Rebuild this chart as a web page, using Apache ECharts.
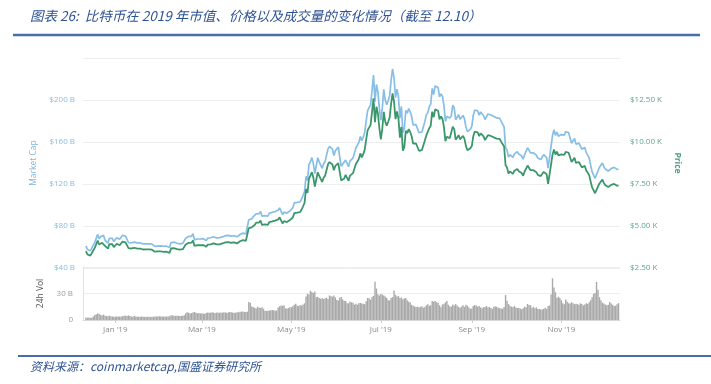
<!DOCTYPE html>
<html>
<head>
<meta charset="utf-8">
<script src="https://cdn.jsdelivr.net/npm/echarts@6/dist/echarts.min.js"></script>
<style>
html,body{margin:0;padding:0;background:#fff;}
#chart{width:711px;height:384px;}
</style>
</head>
<body>
<div id="chart"></div>
<script>
// Day offsets relative to 2019-01-01; first data point = 2018-12-12
const firstDay = -20;
const tickDays = [0, 59, 120, 181, 243, 304];
const tickLabels = ["Jan '19", "Mar '19", "May '19", "Jul '19", "Sep '19", "Nov '19"];

// Price (USD), daily from 2018-12-12 to 2019-12-10
const priceUSD = [
  // Dec 2018 (12-31)
  3510,3313,3243,3236,3253,3545,3697,3745,4134,3896,4014,3998,4079,3815,3857,3654,3923,3821,3913,3743,
  // Jan
  3843,3943,3837,3858,3845,4076,4026,4031,4035,3679,3688,3661,3553,3705,3631,3656,3678,3657,3729,3601,3585,3614,3576,3608,3594,3593,3566,3471,3438,3488,3458,
  // Feb
  3487,3521,3465,3459,3467,3414,3401,3661,3665,3683,3615,3629,3615,3593,3602,3618,3667,3898,3947,3999,3954,4005,4142,3810,3882,3855,3859,3854,
  // Mar
  3859,3864,3847,3761,3896,3903,3912,3902,3964,3949,3902,3920,3912,3924,3960,4048,4026,4002,4044,4066,4002,4009,4023,4017,3964,3985,4090,4094,4161,4129,4116,
  // Apr
  4150,4879,4973,4922,5036,5059,5198,5289,5204,5325,5064,5089,5096,5167,5067,5236,5307,5276,5277,5323,5277,5389,5513,5435,5153,5285,5247,5236,5208,5350,
  // May
  5402,5506,5768,5831,5796,5747,5829,5982,6175,6379,7204,6972,7815,7994,8205,7884,7343,7271,8198,7978,7964,7627,7876,7997,8052,8673,8805,8719,8659,8319,8575,
  // Jun
  8564,8742,8208,7708,7824,7822,8043,7954,7688,8000,7927,8145,8230,8693,8838,8994,9320,9082,9274,9531,10145,10701,10855,11011,11790,12600,11182,12100,11700,10818,
  // Jul
  10150,10801,11800,11215,10978,11208,11450,12285,12900,12400,11358,11815,11392,10256,10895,9477,9693,10666,10530,10767,10599,10343,9900,9811,9912,9871,9477,9552,9519,9597,10085,
  // Aug
  10399,10518,10821,10970,11805,11478,11941,11966,11862,11355,11523,11382,10895,10051,10311,10374,10231,10345,10916,10764,10138,10131,10407,10160,10139,10370,10185,9754,9510,9598,9630,
  // Sep
  9757,10346,10623,10594,10575,10353,10517,10441,10334,10115,10178,10410,10360,10358,10347,10276,10241,10199,10267,10181,10019,10070,9729,8620,8486,8118,8251,8245,8104,8293,
  // Oct
  8344,8393,8259,8205,8151,7988,8245,8228,8595,8586,8321,8336,8321,8374,8205,8047,8103,7973,7988,8223,8243,8078,7514,7493,8660,9244,9551,9256,9428,9205,9199,
  // Nov
  9261,9324,9235,9413,9342,9360,9267,8804,8813,9055,8757,8815,8809,8708,8491,8550,8577,8309,8206,8027,7642,7297,7397,6950,7146,7218,7532,7463,7761,7569,
  // Dec 2019 (1-10)
  7424,7321,7320,7253,7448,7547,7505,7504,7400,7400
];

// Market cap (billion USD), same days
const marketCapB = [
  61.1,57.7,56.5,56.4,56.7,61.8,64.4,65.2,72.0,67.9,69.9,69.6,71.1,66.5,67.2,63.7,68.3,66.6,68.2,65.2,
  67.1,68.9,67.0,67.4,67.2,71.2,70.3,70.4,70.5,64.3,64.4,64.0,62.1,64.7,63.4,63.9,64.3,63.9,65.1,62.9,62.6,63.1,62.5,63.0,62.8,62.8,62.3,60.6,60.1,60.9,60.4,
  61.1,61.7,60.7,60.6,60.8,59.8,59.6,64.2,64.2,64.6,63.4,63.6,63.4,63.0,63.1,63.4,64.3,68.3,69.2,70.1,69.3,70.2,72.6,66.8,68.1,67.6,67.6,67.6,
  67.8,67.9,67.6,66.1,68.5,68.6,68.8,68.6,69.7,69.4,68.6,68.9,68.8,69.0,69.6,71.2,70.8,70.4,71.1,71.5,70.4,70.5,70.7,70.6,69.7,70.1,71.9,72.0,73.2,72.6,72.4,
  73.2,86.0,87.7,86.8,88.8,89.2,91.6,93.2,91.7,93.9,89.3,89.7,89.8,91.1,89.3,92.3,93.6,93.0,93.0,93.8,93.0,95.0,97.2,95.8,90.8,93.2,92.5,92.3,91.8,94.3,
  95.6,97.4,102.0,103.2,102.5,101.7,103.1,105.8,109.2,112.8,127.4,123.3,138.2,141.4,145.1,139.5,129.9,128.6,145.0,141.1,140.9,134.9,139.3,141.5,142.4,153.4,155.8,154.2,153.2,147.2,151.7,
  152.0,155.2,145.7,136.8,138.9,138.8,142.8,141.2,136.5,142.0,140.7,144.6,146.1,154.3,156.9,159.6,165.4,161.2,164.6,169.2,180.1,189.9,192.7,195.4,209.3,223.7,198.5,214.8,207.7,192.0,
  180.8,192.4,210.2,199.7,195.5,199.6,203.9,218.8,229.7,220.8,202.3,210.4,202.9,182.7,194.0,168.8,172.6,190.0,187.5,191.8,188.8,184.2,176.3,174.7,176.5,175.8,168.8,170.1,169.5,170.9,179.6,
  185.8,188.0,193.4,196.0,211.0,205.1,213.4,213.8,212.0,202.9,205.9,203.4,194.7,179.6,184.3,185.4,182.8,184.9,195.1,192.4,181.2,181.0,186.0,181.6,181.2,185.3,182.0,174.3,169.9,171.5,172.1,
  174.9,185.5,190.5,190.0,189.6,185.6,188.6,187.2,185.3,181.4,182.5,186.7,185.8,185.7,185.5,184.2,183.6,182.9,184.1,182.5,179.6,180.6,174.4,154.6,152.2,145.6,147.9,147.8,145.3,148.7,
  150.0,150.9,148.5,147.5,146.6,143.6,148.2,147.9,154.5,154.4,149.6,149.9,149.6,150.6,147.5,144.7,145.7,143.4,143.6,147.9,148.2,145.2,135.1,134.7,155.7,166.2,171.7,166.4,169.5,165.5,165.4,
  167.1,168.2,166.6,169.8,168.5,168.9,167.2,158.8,159.0,163.4,158.0,159.0,158.9,157.1,153.2,154.2,154.7,149.9,148.0,144.8,137.9,131.6,133.4,125.4,128.9,130.2,135.9,134.6,140.0,136.5,
  134.3,132.4,132.4,131.2,134.7,136.5,135.8,135.7,133.9,133.9
];

// 24h volume (billion USD), same days
const volumeB = [
  2.8,2.5,2.7,2.4,2.6,4.0,5.8,6.6,7.4,6.9,5.8,5.2,6.1,4.8,4.6,4.3,4.9,4.2,4.0,3.8,
  3.6,4.0,4.1,3.9,3.7,4.4,4.8,4.9,4.5,5.2,4.6,3.9,3.6,4.5,4.1,3.8,3.7,3.6,3.9,3.8,3.5,3.7,3.6,3.8,3.5,3.6,3.6,4.1,3.9,4.0,4.2,
  4.1,3.9,3.8,3.9,3.8,4.2,4.1,5.5,5.1,4.9,4.7,4.9,4.8,4.6,4.7,4.8,5.4,7.6,8.9,8.2,7.4,7.8,8.6,9.2,8.1,7.6,7.9,7.4,
  7.6,7.2,7.0,7.8,8.5,8.1,8.2,8.9,8.4,8.0,8.3,8.6,8.1,8.4,8.2,8.9,8.5,8.3,8.6,9.0,8.7,8.4,8.3,8.2,8.9,8.8,9.3,9.4,9.5,9.1,9.0,
  9.4,20.5,19.6,15.2,14.6,13.8,13.1,14.9,14.1,13.6,14.5,12.8,10.6,10.2,10.4,10.8,11.1,11.3,10.9,10.5,10.7,14.1,15.6,16.3,15.9,16.8,13.2,13.0,13.6,14.4,
  14.5,15.6,17.2,18.3,16.1,15.8,16.9,16.4,17.6,18.9,26.5,29.7,28.9,33.1,31.8,30.6,32.4,25.8,26.2,24.9,24.1,24.6,23.8,24.5,25.2,23.9,27.8,26.9,26.4,27.6,25.6,
  22.6,22.0,25.1,26.1,23.2,21.9,21.5,19.1,18.9,21.0,20.0,19.6,17.4,18.4,17.2,18.9,19.3,18.8,18.4,17.9,21.3,24.9,24.6,22.8,26.1,27.3,43.2,35.6,29.2,27.8,
  29.5,28.8,27.6,26.7,24.8,22.3,22.2,24.8,25.9,33.5,28.5,26.7,27.1,24.8,25.4,23.6,24.3,24.9,22.4,20.8,19.8,17.2,16.0,15.3,14.8,15.1,14.3,14.9,15.6,13.9,14.8,
  16.6,17.9,16.2,16.7,21.6,20.8,21.4,20.1,19.4,16.7,14.5,17.6,18.3,19.8,21.5,17.2,15.4,15.3,17.6,16.5,18.2,16.4,14.8,13.9,15.2,16.7,14.9,17.3,16.2,14.1,12.8,
  13.0,15.9,17.1,16.5,15.1,15.8,14.2,13.2,14.6,14.6,15.8,14.2,14.8,13.5,12.7,15.1,15.3,14.9,14.0,13.4,13.1,12.8,14.6,28.2,21.7,18.0,16.2,15.1,14.3,15.9,
  14.1,13.6,13.7,12.9,12.1,13.2,15.1,14.4,18.1,17.0,16.8,13.8,14.9,13.2,14.3,12.4,12.6,12.0,11.8,12.8,14.0,12.5,15.8,16.4,28.9,47.2,36.8,31.4,25.3,26.3,24.9,
  22.4,19.0,17.8,23.2,20.8,18.9,18.7,20.1,18.9,17.9,18.4,17.9,17.3,18.9,18.2,16.6,17.5,19.0,18.2,20.1,22.4,25.7,29.6,30.5,43.0,34.2,25.8,22.4,19.6,18.6,
  17.5,16.8,17.3,20.5,18.6,17.2,15.9,16.2,17.8,19.1
];

const pair = (arr) => arr.map((v, i) => [firstDay + i, v]);

const chart = echarts.init(document.getElementById('chart'), null, {renderer: 'canvas'});
const labelFont = 'Open Sans';
const option = {
  animation: false,
  backgroundColor: '#ffffff',
  graphic: [
    {type: 'text', left: 30, top: 9, style: {text: '图表 26:  比特币在 2019 年市值、价格以及成交量的变化情况（截至 12.10）', font: 'italic 13.5px "Noto Sans CJK SC"', fill: '#2E5395'}},
    {type: 'line', shape: {x1: 13, y1: 35, x2: 700, y2: 35}, style: {stroke: '#4A6CA8', lineWidth: 2.5}},
    {type: 'line', shape: {x1: 18, y1: 356, x2: 711, y2: 356}, style: {stroke: '#4A6CA8', lineWidth: 2}},
    {type: 'text', left: 30, top: 360, style: {text: '资料来源：coinmarketcap,国盛证券研究所', font: 'italic 12px "Noto Sans CJK SC"', fill: '#2E5395'}}
  ],
  grid: [
    {left: 83, right: 91, top: 58, height: 210},
    {left: 83, right: 91, top: 267, height: 53}
  ],
  xAxis: [
    {type: 'value', gridIndex: 0, min: -22, max: 344, show: false},
    {type: 'value', gridIndex: 1, min: -22, max: 344,
     axisLine: {show: true, onZero: false, lineStyle: {color: '#d8d8d8'}},
     axisTick: {show: true, customValues: tickDays, length: 3, lineStyle: {color: '#cccccc'}},
     splitLine: {show: false},
     axisLabel: {customValues: tickDays, color: '#8a8a8a', fontSize: 8, fontFamily: labelFont, margin: 6,
       formatter: function (v) { const k = tickDays.indexOf(Math.round(v)); return k >= 0 ? tickLabels[k] : ''; }}
    }
  ],
  yAxis: [
    {type: 'value', gridIndex: 0, min: 40, max: 240, interval: 40, position: 'left',
     name: 'Market Cap', nameLocation: 'middle', nameGap: 44, nameRotate: 90,
     nameTextStyle: {color: '#7FB4DE', fontSize: 8.5, fontFamily: labelFont},
     axisLine: {show: false, onZero: false}, axisTick: {show: false},
     splitLine: {show: true, lineStyle: {color: '#eeeeee'}},
     axisLabel: {color: '#88BBE0', fontSize: 8, fontFamily: labelFont, margin: 8, showMaxLabel: false,
       formatter: (v) => '$' + v + ' B'}},
    {type: 'value', gridIndex: 0, min: 2500, max: 15000, interval: 2500, position: 'right',
     name: 'Price', nameLocation: 'middle', nameGap: 52, nameRotate: -90,
     nameTextStyle: {color: '#4E9C7C', fontSize: 8.5, fontWeight: 'bold', fontFamily: labelFont},
     axisLine: {show: false, onZero: false}, axisTick: {show: false}, splitLine: {show: false},
     axisLabel: {color: '#5FA68A', fontSize: 8, fontFamily: labelFont, margin: 10, showMaxLabel: false,
       formatter: (v) => '$' + (v / 1000).toFixed(2) + ' K'}},
    {type: 'value', gridIndex: 1, min: 0, max: 60, interval: 30, position: 'left',
     name: '24h Vol', nameLocation: 'middle', nameGap: 38, nameRotate: 90,
     nameTextStyle: {color: '#555555', fontSize: 8.5, fontFamily: labelFont},
     axisLine: {show: true, onZero: false, lineStyle: {color: '#e2e2e2'}}, axisTick: {show: false},
     splitLine: {show: true, lineStyle: {color: '#eeeeee'}},
     axisLabel: {color: '#9a9a9a', fontSize: 8, fontFamily: labelFont, margin: 10, showMaxLabel: false,
       formatter: (v) => v === 0 ? '0' : v + ' B'}}
  ],
  series: [
    {name: 'Market Cap', type: 'line', xAxisIndex: 0, yAxisIndex: 0, data: pair(marketCapB),
     showSymbol: false, lineStyle: {color: '#86BEE8', width: 1.7}, z: 3},
    {name: 'Price', type: 'line', xAxisIndex: 0, yAxisIndex: 1, data: pair(priceUSD),
     showSymbol: false, lineStyle: {color: '#3A976C', width: 1.8}, z: 4},
    {name: '24h Vol', type: 'bar', xAxisIndex: 1, yAxisIndex: 2, data: pair(volumeB),
     barWidth: 1.4, itemStyle: {color: '#a9a9a9'}}
  ]
};
chart.setOption(option);
</script>
</body>
</html>
